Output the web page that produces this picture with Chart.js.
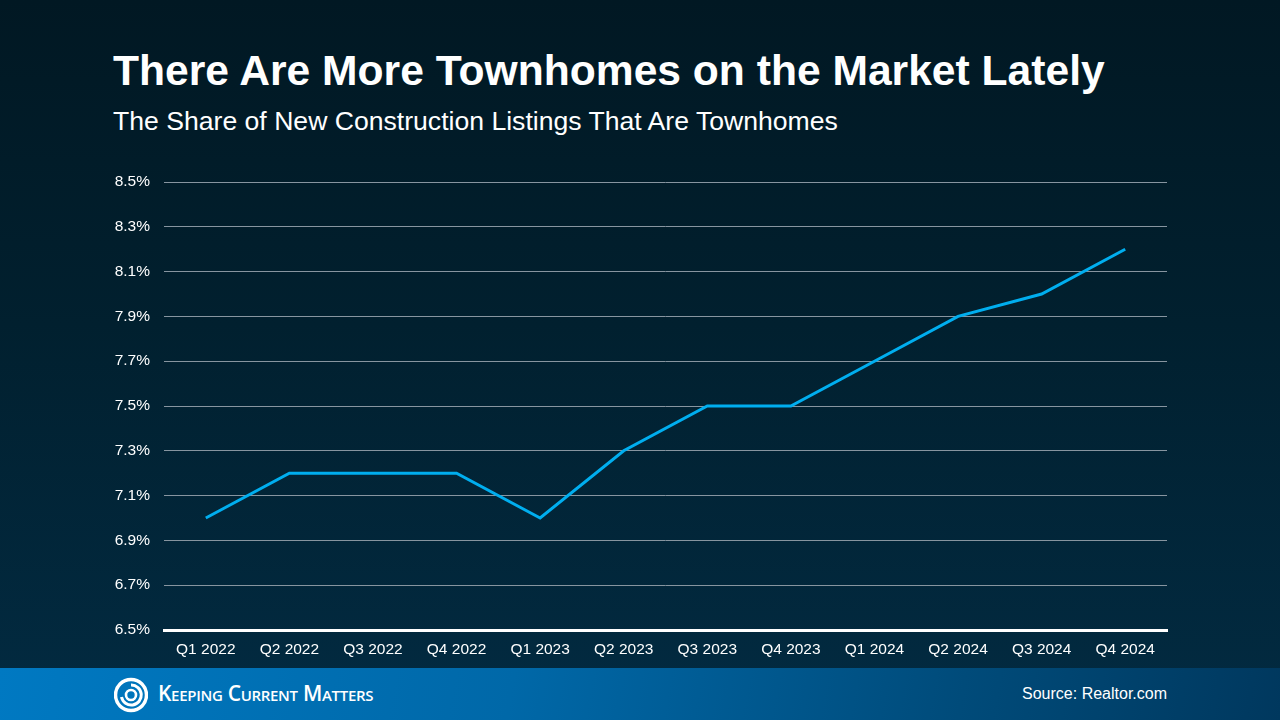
<!DOCTYPE html>
<html>
<head>
<meta charset="utf-8">
<script src="https://cdn.jsdelivr.net/npm/chart.js@4.4.1/dist/chart.umd.min.js"></script>
<style>
  html, body { margin: 0; padding: 0; }
  body {
    width: 1280px; height: 720px; overflow: hidden; position: relative;
    background: linear-gradient(180deg, #011823 0%, #01202f 45%, #022b42 100%);
    font-family: "Liberation Sans", Arial, sans-serif;
  }
  #title {
    position: absolute; left: 113px; top: 44px; margin: 0;
    font-size: 42.6px; font-weight: bold; color: #ffffff; line-height: 52px; white-space: nowrap;
  }
  #subtitle {
    position: absolute; left: 113px; top: 105px; margin: 0;
    font-size: 26.6px; color: #ffffff; line-height: 32px; white-space: nowrap;
  }
  #wrap { position: absolute; left: 0; top: 0; width: 1280px; height: 668px; }
  #footer {
    position: absolute; left: 0; top: 668px; width: 1280px; height: 52px;
    background: linear-gradient(100deg, #0079c2 0%, #0068a8 40%, #004b7a 75%, #00385e 100%);
  }
  #logo { position: absolute; left: 114px; top: 9px; }
  #brand {
    position: absolute; left: 158px; top: 12px; color: #ffffff;
    font-family: "Open Sans", sans-serif; font-weight: 600; font-size: 21px;
    font-variant: small-caps; letter-spacing: -0.3px; white-space: nowrap; line-height: 26px;
  }
  #source {
    position: absolute; right: 113px; top: 16px; color: #ffffff;
    font-size: 16px; line-height: 20px; white-space: nowrap;
  }
</style>
</head>
<body>
<div id="title">There Are More Townhomes on the Market Lately</div>
<div id="subtitle">The Share of New Construction Listings That Are Townhomes</div>
<div id="wrap"><canvas id="myChart"></canvas></div>
<div id="footer">
  <svg id="logo" width="34" height="36" viewBox="0 0 34 36">
    <circle cx="17" cy="18" r="15.5" fill="none" stroke="#ffffff" stroke-width="3.5"/>
    <path d="M17 8 A10 10 0 1 1 7.5 20" fill="none" stroke="#ffffff" stroke-width="3"/>
    <circle cx="17" cy="18" r="5" fill="none" stroke="#ffffff" stroke-width="2.6"/>
  </svg>
  <div id="brand">Keeping Current Matters</div>
  <div id="source">Source: Realtor.com</div>
</div>
<script>
// Chart data
const quarters = ["Q1 2022", "Q2 2022", "Q3 2022", "Q4 2022", "Q1 2023", "Q2 2023",
                  "Q3 2023", "Q4 2023", "Q1 2024", "Q2 2024", "Q3 2024", "Q4 2024"];
const townhomeShare = [7.0, 7.2, 7.2, 7.2, 7.0, 7.3, 7.5, 7.5, 7.7, 7.9, 8.0, 8.2];
const yMin = 6.5;
const yMax = 8.5;
const yStep = 0.2;

const data = {
  labels: quarters,
  datasets: [
    {
      label: "Townhome share",
      data: townhomeShare,
      borderColor: "#00aeef",
      borderWidth: 3,
      pointRadius: 0,
      tension: 0,
      fill: false,
    },
  ],
};

const options = {
  responsive: true,
  maintainAspectRatio: false,
  animation: false,
  layout: {
    padding: { top: 182, left: 100, right: 113, bottom: 8 },
  },
  plugins: {
    legend: { display: false },
    tooltip: { enabled: false },
  },
  scales: {
    x: {
      offset: true,
      grid: { display: false, drawTicks: false },
      border: { display: true, color: "#ffffff", width: 3 },
      ticks: {
        color: "#ffffff",
        padding: 10,
        maxRotation: 0,
        autoSkip: false,
        font: { size: 15.5, family: "'Liberation Sans', Arial" },
      },
      afterFit: (scale) => { scale.height = 30; },
    },
    y: {
      min: yMin,
      max: yMax,
      grid: { color: "#8795a0", lineWidth: 1, drawTicks: false },
      border: { display: false },
      ticks: {
        stepSize: yStep,
        color: "#ffffff",
        padding: 14,
        font: { size: 15.5, family: "'Liberation Sans', Arial" },
        callback: (value) => `${value.toFixed(1)}%`, // one decimal with %
      },
      afterFit: (scale) => { scale.width = 64; },
    },
  },
};

const ctx = document.getElementById("myChart").getContext("2d");
const myChart = new Chart(ctx, {
  type: "line",
  data: data,
  options: options,
});
</script>
</body>
</html>
